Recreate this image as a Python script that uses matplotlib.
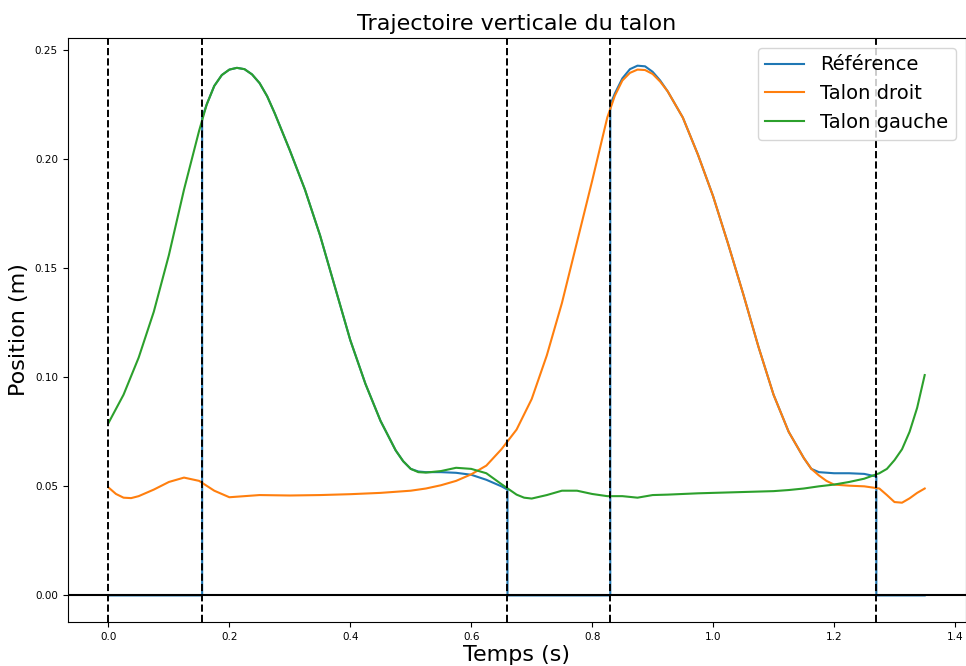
import matplotlib
matplotlib.use("Agg")
import matplotlib.pyplot as plt

# Talon gauche (left heel)
gauche_t = [0.0, 0.025, 0.05, 0.075, 0.1, 0.125, 0.15, 0.1625, 0.175, 0.1875,
            0.2, 0.2125, 0.225, 0.2375, 0.25, 0.2625, 0.275, 0.3, 0.325, 0.35,
            0.375, 0.4, 0.425, 0.45, 0.475, 0.4875, 0.5, 0.5125, 0.525, 0.55,
            0.575, 0.6, 0.625, 0.65, 0.675, 0.6875, 0.7, 0.7125, 0.725, 0.75,
            0.775, 0.8, 0.825, 0.85, 0.875, 0.9, 0.925, 0.95, 0.975, 1.0,
            1.025, 1.05, 1.075, 1.1, 1.125, 1.15, 1.175, 1.2, 1.225, 1.25,
            1.275, 1.2875, 1.3, 1.3125, 1.325, 1.3375, 1.35]
gauche_y = [0.079, 0.092, 0.109, 0.130, 0.156, 0.186, 0.213, 0.225, 0.2335, 0.2385,
            0.241, 0.2418, 0.2412, 0.2388, 0.2348, 0.2288, 0.221, 0.204, 0.186, 0.165,
            0.141, 0.117, 0.097, 0.080, 0.0665, 0.0615, 0.058, 0.0565, 0.0563, 0.057,
            0.0585, 0.058, 0.056, 0.051, 0.0462, 0.0448, 0.0444, 0.0452, 0.046, 0.048,
            0.048, 0.0465, 0.0455, 0.0455, 0.0448, 0.046, 0.0462, 0.0465, 0.0468, 0.047,
            0.0472, 0.0474, 0.0476, 0.0478, 0.0483, 0.049, 0.050, 0.0508, 0.052, 0.0535,
            0.056, 0.058, 0.062, 0.067, 0.075, 0.086, 0.101]

# Talon droit (right heel)
droit_t = [0.0, 0.0125, 0.025, 0.0375, 0.05, 0.075, 0.1, 0.125, 0.15, 0.175,
           0.2, 0.225, 0.25, 0.3, 0.35, 0.4, 0.45, 0.475, 0.5, 0.525,
           0.55, 0.575, 0.6, 0.625, 0.65, 0.675, 0.7, 0.725, 0.75, 0.775,
           0.8, 0.825, 0.8375, 0.85, 0.8625, 0.875, 0.8875, 0.9, 0.9125, 0.925,
           0.95, 0.975, 1.0, 1.025, 1.05, 1.075, 1.1, 1.125, 1.15, 1.1625,
           1.175, 1.1875, 1.2, 1.225, 1.25, 1.275, 1.2875, 1.3, 1.3125, 1.325,
           1.3375, 1.35]
droit_y = [0.0495, 0.0465, 0.0448, 0.0446, 0.0455, 0.0485, 0.052, 0.054, 0.0525, 0.048,
           0.045, 0.0455, 0.046, 0.0458, 0.046, 0.0464, 0.047, 0.0475, 0.048, 0.049,
           0.0505, 0.0525, 0.0555, 0.0595, 0.067, 0.076, 0.090, 0.110, 0.134, 0.162,
           0.190, 0.219, 0.229, 0.236, 0.2395, 0.241, 0.2408, 0.239, 0.2355, 0.231,
           0.219, 0.202, 0.183, 0.161, 0.138, 0.114, 0.092, 0.075, 0.063, 0.058,
           0.055, 0.0525, 0.0508, 0.0503, 0.050, 0.049, 0.046, 0.0428, 0.0425, 0.0445,
           0.047, 0.049]

# Référence: zero during stance, swing trajectory otherwise
ref_t = [0.0, 0.155, 0.155, 0.1625, 0.175, 0.1875, 0.2, 0.2125, 0.225, 0.2375,
         0.25, 0.2625, 0.275, 0.3, 0.325, 0.35, 0.375, 0.4, 0.425, 0.45,
         0.475, 0.4875, 0.5, 0.5125, 0.525, 0.55, 0.575, 0.6, 0.625, 0.65,
         0.66, 0.66, 0.83, 0.83, 0.8375, 0.85, 0.8625, 0.875, 0.8875, 0.9,
         0.9125, 0.925, 0.95, 0.975, 1.0, 1.025, 1.05, 1.075, 1.1, 1.125,
         1.15, 1.1625, 1.175, 1.2, 1.225, 1.25, 1.27, 1.27, 1.35]
ref_y = [0.0, 0.0, 0.219, 0.225, 0.2335, 0.2385, 0.241, 0.2418, 0.2412, 0.2388,
         0.2348, 0.2288, 0.221, 0.204, 0.186, 0.165, 0.141, 0.117, 0.097, 0.080,
         0.0665, 0.0615, 0.058, 0.0568, 0.0565, 0.0565, 0.0562, 0.0553, 0.053, 0.050,
         0.0485, 0.0, 0.0, 0.225, 0.230, 0.237, 0.2412, 0.2428, 0.2425, 0.240,
         0.236, 0.231, 0.219, 0.202, 0.183, 0.161, 0.138, 0.114, 0.092, 0.075,
         0.063, 0.058, 0.0565, 0.056, 0.056, 0.0557, 0.0545, 0.0, 0.0]

events = [0.0, 0.155, 0.66, 0.83, 1.27]

fig = plt.figure(figsize=(9.66, 6.66), dpi=100)
ax = fig.add_axes([0.070, 0.066, 0.9295, 0.877])

ax.plot(ref_t, ref_y, color='#1f77b4', linewidth=1.5, label='Référence')
ax.plot(droit_t, droit_y, color='#ff7f0e', linewidth=1.5, label='Talon droit')
ax.plot(gauche_t, gauche_y, color='#2ca02c', linewidth=1.5, label='Talon gauche')

ax.axhline(0, color='k', linewidth=1.5)
for e in events:
    ax.axvline(e, color='k', linestyle='--', linewidth=1.4)

ax.set_xlim(-0.0675, 1.4175)
ax.set_ylim(-0.0122, 0.2555)
ax.set_xticks([0.0, 0.2, 0.4, 0.6, 0.8, 1.0, 1.2, 1.4])
ax.set_yticks([0.0, 0.05, 0.10, 0.15, 0.20, 0.25])
ax.set_yticklabels(['0.00', '0.05', '0.10', '0.15', '0.20', '0.25'])
ax.tick_params(labelsize=7.5)

ax.set_title("Trajectoire verticale du talon", fontsize=16)
ax.set_xlabel("Temps (s)", fontsize=16, labelpad=2)
ax.set_ylabel("Position (m)", fontsize=16)
ax.legend(loc='upper right', fontsize=14)

fig.savefig("out.png", dpi=100)
